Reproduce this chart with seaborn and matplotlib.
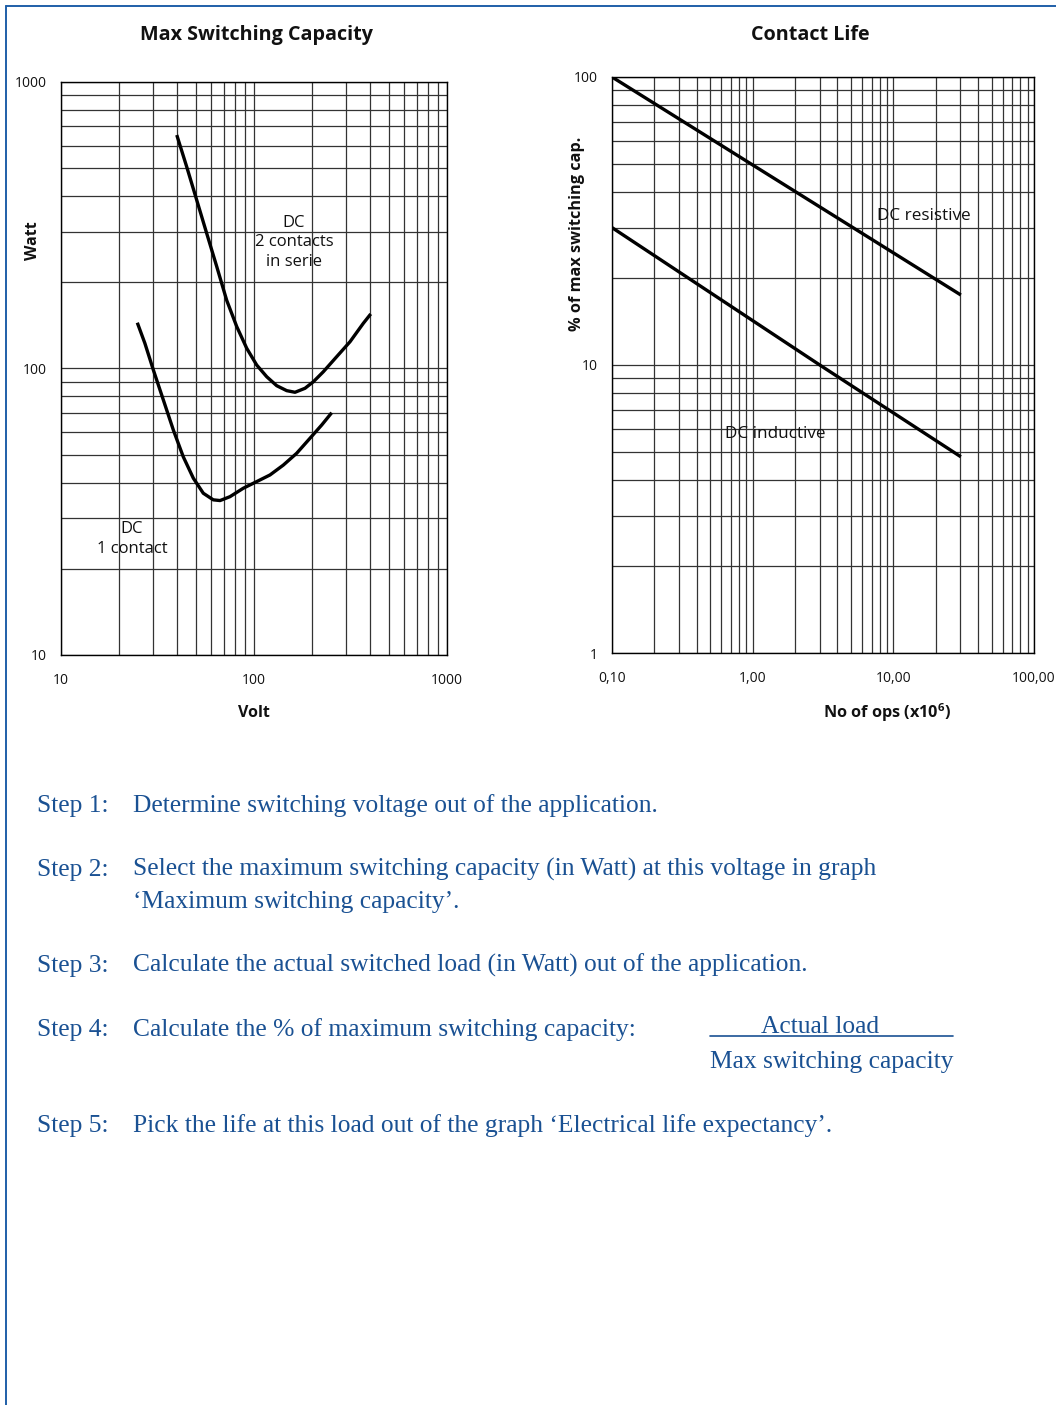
import matplotlib
matplotlib.use("Agg")
import matplotlib.pyplot as plt
import matplotlib.ticker as mticker
from matplotlib.lines import Line2D
import numpy as np
import seaborn as sns

# ===================== data =====================
# Max switching capacity (W) vs voltage (V)
VOLT_2C = [39.8, 44.8, 50.5, 56.9, 64.1, 72.2, 81.4, 91.7, 103.3, 116.4, 131.1,
           147.7, 163.1, 183.8, 203, 228.6, 268.3, 314.4, 368.5, 402.5]
WATT_2C = [653, 506, 387, 296, 227, 173, 140, 117.6, 102.8, 93.6, 87.1,
           83.7, 82.6, 85.3, 89.9, 97.4, 110, 124, 143.8, 155]

VOLT_1C = [24.85, 27.2, 30.1, 33.9, 38.2, 43.0, 48.5, 54.6, 61.5, 66.7, 75.1,
           88.0, 103.3, 121, 141.8, 166.4, 195.1, 224.3, 252.7]
WATT_1C = [144.5, 122.5, 98.8, 77.7, 61.0, 49.2, 41.4, 36.7, 34.8, 34.6, 35.7,
           38.2, 40.3, 42.5, 46.0, 50.6, 57.1, 63.5, 70.1]

# Contact life: % of max switching capacity vs number of operations (x10^6)
OPS_RES = [0.1, 1.0, 30.2]
PCT_RES = [100, 49.5, 17.5]
OPS_IND = [0.1, 3.0, 30.2]
PCT_IND = [30, 10, 4.8]

LEFT_X_TICKS = [10, 100, 1000]
LEFT_X_LABELS = ['10', '100', '1000']
LEFT_Y_TICKS = [10, 100, 1000]
LEFT_Y_LABELS = ['10', '100', '1000']
RIGHT_X_TICKS = [0.1, 1, 10, 100]
RIGHT_X_LABELS = ['0,10', '1,00', '10,00', '100,00']
RIGHT_Y_TICKS = [1, 10, 100]
RIGHT_Y_LABELS = ['1', '10', '100']

STEP_LABELS = ['Step 1:', 'Step 2:', 'Step 3:', 'Step 4:', 'Step 5:']
STEP_TEXTS = [
    ['Determine switching voltage out of the application.'],
    ['Select the maximum switching capacity (in Watt) at this voltage in graph',
     '\u2018Maximum switching capacity\u2019.'],
    ['Calculate the actual switched load (in Watt) out of the application.'],
    ['Calculate the % of maximum switching capacity:'],
    ['Pick the life at this load out of the graph \u2018Electrical life expectancy\u2019.'],
]

# ===================== style =====================
sns.set_style("white")
plt.rcParams['font.family'] = ['Open Sans', 'DejaVu Sans']
plt.rcParams['mathtext.fontset'] = 'custom'
plt.rcParams['mathtext.rm'] = 'Open Sans'
plt.rcParams['mathtext.bf'] = 'Open Sans:bold'

W, H = 1056, 1405
fig = plt.figure(figsize=(W / 100, H / 100), dpi=100)
fig.patch.set_facecolor('white')


def px_box(x0, y0, x1, y1):
    return [x0 / W, 1 - y1 / H, (x1 - x0) / W, (y1 - y0) / H]


GRID_C = '#333333'
INK = '#111111'
TXT = 10


def style_log_axes(ax, xlim, ylim, xticks, xlabels, yticks, ylabels):
    ax.set_xscale('log')
    ax.set_yscale('log')
    ax.set_xlim(*xlim)
    ax.set_ylim(*ylim)
    ax.xaxis.set_minor_locator(mticker.LogLocator(base=10, subs=np.arange(2, 10)))
    ax.yaxis.set_minor_locator(mticker.LogLocator(base=10, subs=np.arange(2, 10)))
    ax.set_xticks(xticks)
    ax.set_xticklabels(xlabels)
    ax.set_yticks(yticks)
    ax.set_yticklabels(ylabels)
    ax.xaxis.set_minor_formatter(mticker.NullFormatter())
    ax.yaxis.set_minor_formatter(mticker.NullFormatter())
    ax.grid(True, which='both', color=GRID_C, linewidth=0.9)
    ax.tick_params(which='major', direction='out', length=5, width=1,
                   color='black', labelsize=TXT, labelcolor=INK)
    ax.tick_params(axis='x', which='major', pad=8)
    ax.tick_params(axis='y', which='major', pad=5)
    ax.tick_params(which='minor', length=0)
    for s in ax.spines.values():
        s.set_color('black')
        s.set_linewidth(1.0)
    ax.set_axisbelow(True)


LINE_KW = dict(sort=False, color='black', linewidth=2.4,
               solid_joinstyle='round', solid_capstyle='butt')

# ===================== left chart =====================
ax1 = fig.add_axes(px_box(61, 82, 447, 655))
style_log_axes(ax1, (10, 1000), (10, 1000),
               LEFT_X_TICKS, LEFT_X_LABELS, LEFT_Y_TICKS, LEFT_Y_LABELS)
sns.lineplot(x=VOLT_2C, y=WATT_2C, ax=ax1, **LINE_KW)
sns.lineplot(x=VOLT_1C, y=WATT_1C, ax=ax1, **LINE_KW)
ax1.text(161, 276, 'DC\n2 contacts\nin serie', ha='center', va='center',
         fontsize=12, linespacing=1.3, color=INK)
ax1.text(23.3, 25.4, 'DC\n1 contact', ha='center', va='center',
         fontsize=12, linespacing=1.3, color=INK)
ax1.set_xlabel('')
ax1.set_ylabel('')

# ===================== right chart =====================
ax2 = fig.add_axes(px_box(612, 77, 1034, 653))
style_log_axes(ax2, (0.1, 100), (1, 100),
               RIGHT_X_TICKS, RIGHT_X_LABELS, RIGHT_Y_TICKS, RIGHT_Y_LABELS)
sns.lineplot(x=OPS_RES, y=PCT_RES, ax=ax2, **LINE_KW)
sns.lineplot(x=OPS_IND, y=PCT_IND, ax=ax2, **LINE_KW)
ax2.text(7.64, 32.9, 'DC resistive', ha='left', va='center', fontsize=12.3, color=INK)
ax2.text(0.635, 5.76, 'DC inductive', ha='left', va='center', fontsize=12.3, color=INK)
ax2.set_xlabel('')
ax2.set_ylabel('')


def ftext(x, y, s, **kw):
    fig.text(x / W, 1 - y / H, s, **kw)


# titles / axis labels
ftext(257, 35, 'Max Switching Capacity', ha='center', va='center',
      fontsize=14.2, fontweight='bold', color=INK)
ftext(810, 35, 'Contact Life', ha='center', va='center',
      fontsize=14.2, fontweight='bold', color=INK)
ftext(33, 241, 'Watt', ha='center', va='center', rotation=90,
      fontsize=11.5, fontweight='bold', color=INK)
ftext(577, 234, '% of max switching cap.', ha='center', va='center', rotation=90,
      fontsize=11.7, fontweight='bold', color=INK)
ftext(254, 713, 'Volt', ha='center', va='center',
      fontsize=11.5, fontweight='bold', color=INK)
ftext(887, 713, r'No of ops (x10$^{\mathbf{6}}$)', ha='center', va='center',
      fontsize=11.7, fontweight='bold', color=INK)

# ===================== steps text =====================
BLUE = '#1a5193'
SERIF = ['Liberation Serif', 'DejaVu Serif']
STEP_FS = 18.4
LINE_GAP = 32
baselines = [812, 876, 972, 1036, 1132]
for lab, lines, yb in zip(STEP_LABELS, STEP_TEXTS, baselines):
    ftext(37, yb, lab, ha='left', va='baseline', fontsize=STEP_FS,
          family=SERIF, color=BLUE)
    for k, line in enumerate(lines):
        ftext(133, yb + k * LINE_GAP, line, ha='left', va='baseline',
              fontsize=STEP_FS, family=SERIF, color=BLUE)

# fraction in step 4
ftext(820, 1033, 'Actual load', ha='center', va='baseline', fontsize=STEP_FS,
      family=SERIF, color=BLUE)
fig.add_artist(Line2D([710 / W, 953 / W], [1 - 1036 / H, 1 - 1036 / H],
                      transform=fig.transFigure, color=BLUE, linewidth=1.2))
ftext(710, 1068, 'Max switching capacity', ha='left', va='baseline', fontsize=STEP_FS,
      family=SERIF, color=BLUE)

# page frame (top and left edges)
FRAME = '#1f5fa8'
fig.add_artist(Line2D([6 / W, 1.0], [1 - 6 / H, 1 - 6 / H],
                      transform=fig.transFigure, color=FRAME, linewidth=1.4))
fig.add_artist(Line2D([6 / W, 6 / W], [0.0, 1 - 6 / H],
                      transform=fig.transFigure, color=FRAME, linewidth=1.4))

plt.savefig('out.png', dpi=100)
